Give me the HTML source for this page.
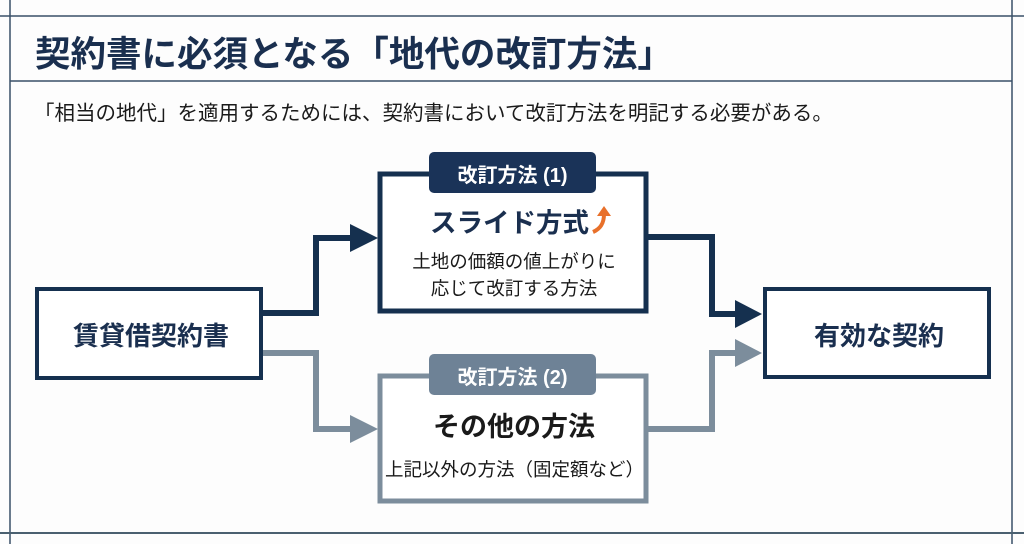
<!DOCTYPE html>
<html><head><meta charset="utf-8"><style>
html,body{margin:0;padding:0;background:#fdfdfd;}
body{width:1024px;height:544px;overflow:hidden;position:relative;font-family:"Liberation Sans","Noto Sans CJK JP",sans-serif;}
.t{position:absolute;white-space:nowrap;}
</style></head><body>
<svg width="1024" height="544" style="position:absolute;left:0;top:0">
<g stroke="#3a5068" stroke-width="1.5" fill="none">
<line x1="0" y1="16" x2="1024" y2="16"/>
<line x1="10" y1="0" x2="10" y2="544"/>
<line x1="1012" y1="0" x2="1012" y2="544"/>
<line x1="10" y1="81" x2="1012" y2="81"/>
<line x1="0" y1="533" x2="1024" y2="533" stroke="#4a6070" stroke-width="2"/>
</g>
<g fill="none" stroke-width="6" stroke-linejoin="miter">
<polyline points="262,313 316,313 316,238 356,238" stroke="#15304f"/>
<polyline points="647,237 712,237 712,314 742,314" stroke="#15304f"/>
<polyline points="262,353 316,353 316,429 356,429" stroke="#7c8d9c"/>
<polyline points="647,429 712,429 712,353 742,353" stroke="#7c8d9c"/>
</g>
<polygon points="350,224 378,238 350,252" fill="#15304f"/>
<polygon points="735,300 762,314 735,328" fill="#15304f"/>
<polygon points="350,415 378,429 350,443" fill="#7c8d9c"/>
<polygon points="735,339 762,353 735,367" fill="#7c8d9c"/>
<rect x="37" y="289" width="224" height="89" fill="#fff" stroke="#15304f" stroke-width="4"/>
<rect x="765" y="289" width="224" height="88" fill="#fff" stroke="#15304f" stroke-width="4"/>
<rect x="380" y="174" width="266" height="137" fill="#fff" stroke="#15304f" stroke-width="5"/>
<rect x="380" y="376" width="266" height="125" fill="#fff" stroke="#7c8d9c" stroke-width="5"/>
<rect x="429" y="152" width="167" height="41" rx="5" fill="#1a3358"/>
<rect x="429" y="354" width="167" height="41" rx="5" fill="#6e8296"/>
<path d="M593,232 C600,229 604,224 604,214" stroke="#e8702a" stroke-width="4" fill="none"/>
<polygon points="597,216 604,206 611,216" fill="#e8702a"/>
</svg>
<div class="t" style="left:35px;top:26px;font-size:35.5px;font-weight:bold;color:#1a2f4f">契約書に必須となる「地代の改訂方法」</div>
<div class="t" style="left:34px;top:96px;font-size:20.5px;color:#1a1a1a">「相当の地代」を適用するためには、契約書において改訂方法を明記する必要がある。</div>
<div class="t" style="left:37px;top:316px;width:228px;text-align:center;font-size:26px;font-weight:bold;color:#1a2f4f">賃貸借契約書</div>
<div class="t" style="left:765px;top:316px;width:228px;text-align:center;font-size:26px;font-weight:bold;color:#1a2f4f">有効な契約</div>
<div class="t" style="left:429px;top:159px;width:167px;text-align:center;font-size:20px;font-weight:bold;color:#fff">改訂方法 (1)</div>
<div class="t" style="left:429px;top:361px;width:167px;text-align:center;font-size:20px;font-weight:bold;color:#fff">改訂方法 (2)</div>
<div class="t" style="left:430px;top:201px;font-size:26.5px;font-weight:bold;color:#1a2f4f">スライド方式</div>
<div class="t" style="left:380px;top:248px;width:268px;text-align:center;font-size:18.5px;line-height:27px;color:#1a1a1a">土地の価額の値上がりに<br>応じて改訂する方法</div>
<div class="t" style="left:380px;top:405px;width:268px;text-align:center;font-size:27px;font-weight:bold;color:#1a1a1a">その他の方法</div>
<div class="t" style="left:385px;top:456px;font-size:18.5px;color:#1a1a1a">上記以外の方法（固定額など）</div>
</body></html>
